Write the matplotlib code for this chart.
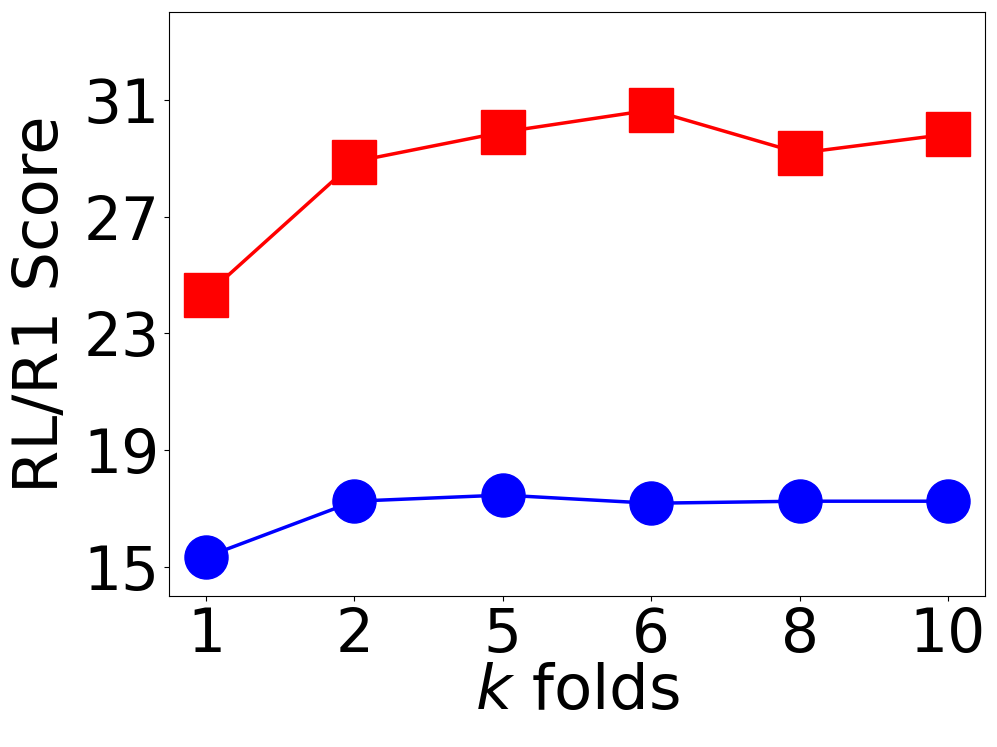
import numpy as np
import matplotlib
matplotlib.use('Agg')
import matplotlib.pyplot as plt

folds=['1','2','5','6','8','10']
rl_scores=[24.31,28.89,29.90,30.66,29.18,29.83]
r1_scores=[15.34,17.25,17.46,17.18,17.25,17.25]
yticks=[15,19,23,27,31]

fig=plt.figure(figsize=(9.97,7.47),dpi=100)
ax=fig.add_axes([0.1695,0.2021,0.8185,0.7812])
x=np.arange(len(folds))
ax.plot(x,rl_scores,color='red',marker='s',markersize=31,linewidth=2.5)
ax.plot(x,r1_scores,color='blue',marker='o',markersize=31,linewidth=2.5)
ax.set_xticks(x)
ax.set_xticklabels(folds)
ax.set_yticks(yticks)
ax.set_ylim(14,34)
ax.tick_params(labelsize=43)
ax.set_xlabel('$k$ folds',fontsize=45,labelpad=-2)
ax.set_ylabel('RL/R1 Score',fontsize=45,labelpad=9)
fig.savefig('out.png',dpi=100)
